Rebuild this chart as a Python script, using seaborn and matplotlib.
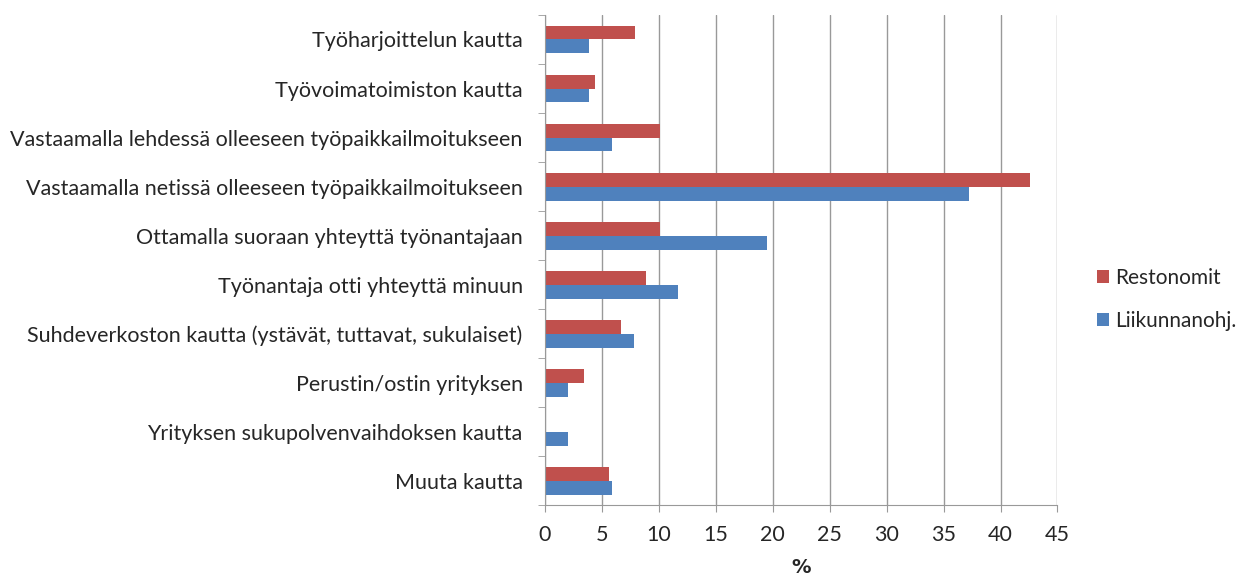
import matplotlib
matplotlib.use('Agg')
import matplotlib.pyplot as plt
import pandas as pd
import seaborn as sns

categories = [
    'Työharjoittelun kautta',
    'Työvoimatoimiston kautta',
    'Vastaamalla lehdessä olleeseen työpaikkailmoitukseen',
    'Vastaamalla netissä olleeseen työpaikkailmoitukseen',
    'Ottamalla suoraan yhteyttä työnantajaan',
    'Työnantaja otti yhteyttä minuun',
    'Suhdeverkoston kautta (ystävät, tuttavat, sukulaiset)',
    'Perustin/ostin yrityksen',
    'Yrityksen sukupolvenvaihdoksen kautta',
    'Muuta kautta',
]
restonomit = [7.9, 4.4, 10.1, 42.6, 10.1, 8.9, 6.65, 3.4, 0.0, 5.6]
liikunnanohj = [3.9, 3.9, 5.9, 37.2, 19.5, 11.7, 7.8, 2.0, 2.0, 5.9]
series = ['Restonomit', 'Liikunnanohj.']

df = pd.concat([
    pd.DataFrame({'kategoria': categories, 'arvo': restonomit, 'ryhma': series[0]}),
    pd.DataFrame({'kategoria': categories, 'arvo': liikunnanohj, 'ryhma': series[1]}),
])

sns.set_style('white')
plt.rcParams['font.family'] = ['Lato', 'DejaVu Sans']

fig, ax = plt.subplots(figsize=(12.47, 5.76), dpi=100)
fig.subplots_adjust(left=0.437, right=0.848, top=0.974, bottom=0.123)

sns.barplot(data=df, y='kategoria', x='arvo', hue='ryhma', hue_order=series,
            order=categories, orient='h', palette=['#C0504D', '#4F81BD'],
            width=0.57, saturation=1, linewidth=0, ax=ax)

ax.set_xlim(0, 45)
ax.set_ylim(9.5, -0.5)
ax.set_xticks(range(0, 46, 5))
ax.tick_params(axis='x', labelsize=15.5, length=5, color='#999999', direction='out',
               bottom=True, pad=9)
ax.tick_params(axis='y', labelsize=15.5, length=0, pad=16)
ax.set_yticks([i - 0.5 for i in range(11)], minor=True)
ax.tick_params(axis='y', which='minor', length=5, color='#999999', left=True)
ax.grid(axis='x', color='#999999', linewidth=1)
ax.set_axisbelow(True)
for side in ['top', 'right']:
    ax.spines[side].set_visible(False)
for side in ['left', 'bottom']:
    ax.spines[side].set_color('#999999')
ax.set_ylabel('')
ax.set_xlabel('%', fontsize=14, fontweight='bold', family='DejaVu Sans', labelpad=10)

ax.legend(loc='center left', bbox_to_anchor=(1.04, 0.42), frameon=False,
          fontsize=15, handlelength=0.6, handleheight=0.6, labelspacing=1.1,
          handletextpad=0.3)

fig.savefig('out.png')
